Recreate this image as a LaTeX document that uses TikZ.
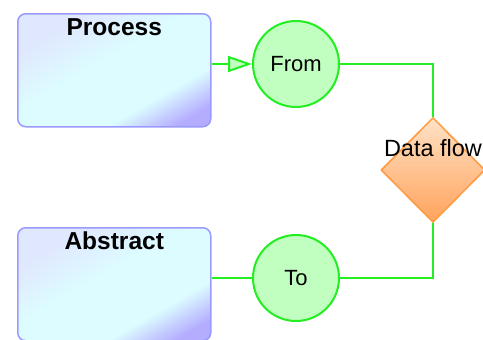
\documentclass[tikz,border=0pt]{standalone}
\usepackage{fontspec}
\setmainfont{Liberation Sans}
\usetikzlibrary{shapes.geometric,arrows.meta}

\definecolor{flowgreen}{HTML}{22EE22}
\definecolor{portfill}{HTML}{C0FFC0}
\definecolor{boxline}{HTML}{9A9AFF}
\definecolor{boxtop}{HTML}{E0E8FF}
\definecolor{boxcyan}{HTML}{DCFCFF}
\definecolor{boxpurple}{HTML}{B4ACFF}
\definecolor{dfline}{HTML}{FF9A40}
\definecolor{dftop}{HTML}{FFE2C6}
\definecolor{dfbottom}{HTML}{FFA35C}

\pgfdeclareverticalshading{boxfill}{100bp}{color(0bp)=(boxpurple); color(22bp)=(boxpurple); color(34bp)=(boxcyan); color(55bp)=(boxcyan); color(72bp)=(boxtop); color(100bp)=(boxtop)}

\begin{document}
\begin{tikzpicture}[x=1pt,y=-1pt]
	\tikzstyle{block}  = [rectangle, rounded corners=8pt, minimum width=193pt, minimum height=113pt, inner sep=0pt, draw=boxline, line width=1.5pt, shading=boxfill, shading angle=30]
	\tikzstyle{title}  = [font=\fontsize{24.5}{26}\selectfont\bfseries, inner sep=0pt]
	\tikzstyle{port}   = [circle, minimum size=86pt, inner sep=0pt, draw=flowgreen, line width=2pt, fill=portfill, font=\fontsize{22}{24}\selectfont]
	\tikzstyle{flow}   = [draw=flowgreen, line width=2pt]

	\useasboundingbox (0,0) rectangle (483,340);

	\foreach \name/\text/\y in {proc/Process/13, abst/Abstract/227} {
		\node[block, anchor=north west] (\name) at (17,\y) {};
		\node[title, anchor=north] (\name-t) at ([yshift=-5pt]\name.north) {\text};
	}

	\foreach \name/\text/\y in {from/From/64, to/To/278}
		\node[port] (\name) at (296,\y) {\text};

	\node[diamond, minimum width=104pt, minimum height=105pt, inner sep=0pt, draw=dfline, line width=1.5pt, top color=dftop, bottom color=dfbottom] (dflow) at (433,170) {};
	\node[font=\fontsize{23.5}{25}\selectfont, inner sep=0pt] (dflow-t) at ([yshift=22pt]dflow.center) {Data flow};

	\draw[flow, -{Triangle[length=24pt, width=16pt, fill=portfill]}] (proc.east |- from) -- (from);
	\draw[flow] (abst.east |- to) -- (to);
	\draw[flow] (from) -| (dflow.north);
	\draw[flow] (dflow.south) |- (to);
\end{tikzpicture}
\end{document}
